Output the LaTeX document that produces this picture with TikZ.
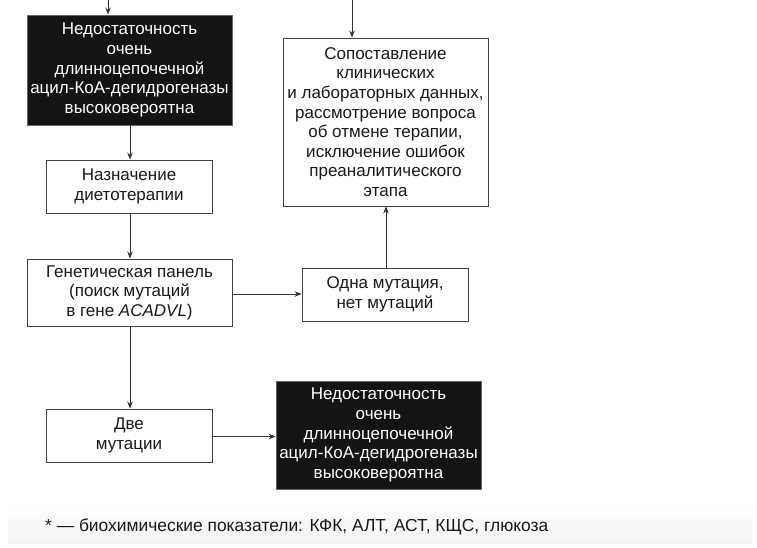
\documentclass[tikz,border=0pt]{standalone}
\usepackage{fontspec}
\setmainfont{Liberation Sans}
\usetikzlibrary{arrows.meta}
\tikzset{
  box/.style={draw=black!75, line width=0.9pt, fill=white, align=center, inner sep=0pt,
    font=\fontsize{17}{19.6}\selectfont, text=black!90},
  dark/.style={box, fill=black!92, draw=black!60, text=white},
  arr/.style={draw=black!80, line width=0.9pt, -{Stealth[length=7pt,width=5.5pt]}},
}
\begin{document}
\begin{tikzpicture}[x=1pt,y=-1pt]
\useasboundingbox (0,0) rectangle (757,547);
\fill[white] (0,0) rectangle (757,547);
\shade[top color=white, bottom color=black!5] (8,505) rectangle (752,543);

\node[dark, minimum width=205pt, minimum height=110pt] (b1) at (129.5,70)
  {Недостаточность\\очень\\длинноцепочечной\\ацил-КоА-дегидрогеназы\\высоковероятна};
\node[box, minimum width=205pt, minimum height=168pt] (r) at (385.5,122)
  {Сопоставление\\клинических\\и лабораторных данных,\\рассмотрение вопроса\\об отмене терапии,\\исключение ошибок\\преаналитического\\этапа};
\node[box, minimum width=166pt, minimum height=53pt] (n) at (129,186.5)
  {Назначение\\диетотерапии};
\node[box, minimum width=205pt, minimum height=67pt] (g) at (129.5,292.5)
  {Генетическая панель\\(поиск мутаций\\в гене \textit{ACADVL})};
\node[box, minimum width=166pt, minimum height=53pt] (o) at (385,294.5)
  {Одна мутация,\\нет мутаций};
\node[box, minimum width=166pt, minimum height=53pt] (d) at (129,435.5)
  {Две\\мутации};
\node[dark, minimum width=205pt, minimum height=108pt] (b2) at (378.5,435)
  {Недостаточность\\очень\\длинноцепочечной\\ацил-КоА-дегидрогеназы\\высоковероятна};

\node[anchor=west, inner sep=0pt, font=\fontsize{17.4}{20}\selectfont, text=black!90] (fn) at (45,527)
  {* — биохимические показатели: КФК, АЛТ, АСТ, КЩС, глюкоза};

\coordinate (t1) at (108,0);
\coordinate (t2) at (352,0);
\draw[arr] (t1) -- (t1 |- b1.north);
\draw[arr] (t2) -- (t2 |- r.north);
\draw[arr] (b1.south -| 130,0) -- (n.north -| 130,0);
\draw[arr] (n.south -| 130,0) -- (g.north -| 130,0);
\draw[arr] (g.south -| 130,0) -- (d.north -| 130,0);
\draw[arr] (g.east |- 0,294) -- (o.west |- 0,294);
\draw[arr] (o.north -| 386,0) -- (r.south -| 386,0);
\draw[arr] (d.east |- 0,436.5) -- (b2.west |- 0,436.5);
\end{tikzpicture}
\end{document}
